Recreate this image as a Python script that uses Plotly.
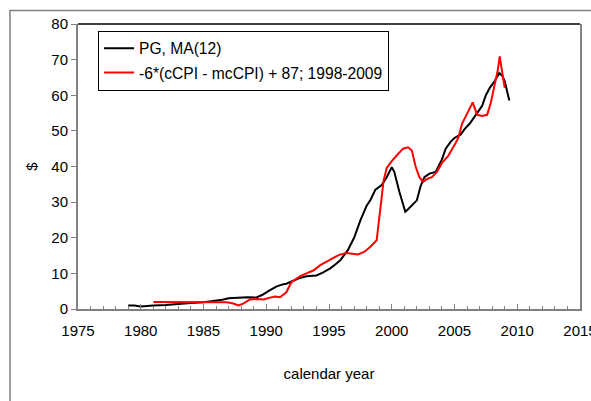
import plotly.graph_objects as go

# PG, MA(12)
pg_years = [1979.0, 1979.5, 1980.0, 1980.5, 1981.0, 1982.0, 1982.5, 1983.0, 1984.0, 1985.0,
            1985.8, 1986.5, 1987.0, 1987.9, 1988.5, 1989.2, 1989.7, 1990.3, 1990.8, 1991.3,
            1991.6, 1992.2, 1992.6, 1993.2, 1994.0, 1994.5, 1995.1, 1995.5, 1995.9, 1996.5,
            1997.0, 1997.5, 1998.0, 1998.3, 1998.7, 1999.2, 1999.6, 2000.0, 2000.2, 2000.6,
            2001.08, 2001.3, 2001.7, 2002.0, 2002.3, 2002.6, 2003.0, 2003.5, 2004.0, 2004.3,
            2004.7, 2005.0, 2005.5, 2005.8, 2006.2, 2006.5, 2006.8, 2007.2, 2007.5, 2007.8,
            2008.2, 2008.57, 2008.8, 2009.0, 2009.2, 2009.37]
pg_values = [1.0, 1.0, 0.7, 0.9, 1.0, 1.1, 1.2, 1.5, 1.7, 1.9,
             2.2, 2.6, 3.0, 3.3, 3.3, 3.2, 4.0, 5.3, 6.3, 6.9,
             7.1, 8.0, 8.6, 9.2, 9.4, 10.2, 11.4, 12.5, 13.7, 16.5,
             20.0, 24.9, 29.0, 30.6, 33.5, 34.8, 37.0, 39.8, 38.5, 33.0,
             27.3, 28.0, 29.5, 30.5, 34.5, 37.0, 38.0, 38.5, 42.0, 45.0,
             47.0, 48.0, 49.0, 50.5, 52.0, 53.5, 55.0, 57.0, 60.0, 62.0,
             64.0, 66.2, 65.5, 64.0, 61.0, 58.5]

# -6*(cCPI - mcCPI) + 87; 1998-2009
cpi_years = [1981.0, 1983.0, 1985.0, 1986.5, 1986.85, 1987.3, 1987.8, 1988.2, 1988.7, 1989.3,
             1989.8, 1990.3, 1990.7, 1991.1, 1991.6, 1992.0, 1992.7, 1993.2, 1993.75, 1994.3,
             1994.8, 1995.3, 1995.8, 1996.4, 1996.8, 1997.3, 1997.8, 1998.3, 1998.8, 1999.1,
             1999.35, 1999.6, 2000.0, 2000.5, 2000.9, 2001.3, 2001.6, 2001.9, 2002.2, 2002.5,
             2002.8, 2003.2, 2003.6, 2004.0, 2004.5, 2005.0, 2005.3, 2005.6, 2006.0, 2006.45,
             2006.8, 2007.2, 2007.6, 2007.9, 2008.2, 2008.45, 2008.6, 2008.8, 2009.0]
cpi_values = [2.0, 2.0, 2.0, 2.0, 1.9, 1.6, 1.0, 1.6, 2.7, 2.8,
              2.7, 3.2, 3.5, 3.3, 4.7, 7.5, 9.2, 10.0, 10.8, 12.3,
              13.2, 14.2, 15.2, 15.7, 15.5, 15.3, 16.0, 17.5, 19.3, 28.0,
              36.0, 39.6, 41.5, 43.5, 45.0, 45.4, 44.5, 40.0, 37.0, 35.7,
              36.5, 37.0, 38.5, 41.0, 43.0, 46.0, 48.0, 52.0, 55.0, 58.0,
              54.5, 54.2, 54.5, 58.0, 63.0, 67.0, 70.9, 66.0, 62.1]

x_ticks = [1975, 1980, 1985, 1990, 1995, 2000, 2005, 2010, 2015]
y_ticks = [0, 10, 20, 30, 40, 50, 60, 70, 80]

FONT = "Liberation Sans, Arial, sans-serif"
GRAY = "#808080"

fig = go.Figure()
fig.add_trace(go.Scatter(x=pg_years, y=pg_values, mode="lines", name="PG, MA(12)",
                         line=dict(color="black", width=2), legendgroup="a"))
fig.add_trace(go.Scatter(x=cpi_years, y=cpi_values, mode="lines",
                         name="-6*(cCPI - mcCPI) + 87; 1998-2009",
                         line=dict(color="#ff0000", width=2), legendgroup="b"))

fig.update_layout(
    width=591, height=401,
    margin=dict(l=78, r=11, t=24, b=92, autoexpand=False),
    paper_bgcolor="white", plot_bgcolor="white",
    font=dict(family=FONT, size=15, color="black"),
    showlegend=True,
    legend=dict(x=0.04, y=0.977, xanchor="left", yanchor="top",
                bordercolor="black", borderwidth=1, bgcolor="white",
                font=dict(size=15.6), tracegroupgap=1, itemwidth=30),
    xaxis=dict(range=[1975, 2015], tickvals=x_ticks, ticktext=[str(v) for v in x_ticks],
               automargin=False,
               showgrid=False, zeroline=False, showline=True, linecolor=GRAY, linewidth=2,
               ticks="inside", ticklen=5, tickcolor=GRAY, tickwidth=1,
               minor=dict(dtick=1, tick0=1975, ticks="inside", ticklen=3, tickcolor=GRAY),
               ticklabelstandoff=7, ticklabeloverflow="allow",
               title=dict(text="calendar year", font=dict(size=15), standoff=30)),
    yaxis=dict(range=[0, 80], tickvals=y_ticks, showgrid=False, zeroline=False,
               automargin=False,
               showline=True, linecolor=GRAY, linewidth=2, mirror=True,
               ticks="outside", ticklen=5, tickcolor=GRAY, tickwidth=1,
               title=dict(text="$", font=dict(size=15), standoff=10)),
    shapes=[
        dict(type="line", xref="paper", yref="paper", x0=0, x1=1, y0=1, y1=1,
             line=dict(color="black", width=1.5)),
        dict(type="rect", xref="paper", yref="paper", x0=-0.1355, x1=1.2, y0=-0.6, y1=1.0475,
             line=dict(color=GRAY, width=1.5), layer="below"),
    ],
)

fig.write_html("out.html")
